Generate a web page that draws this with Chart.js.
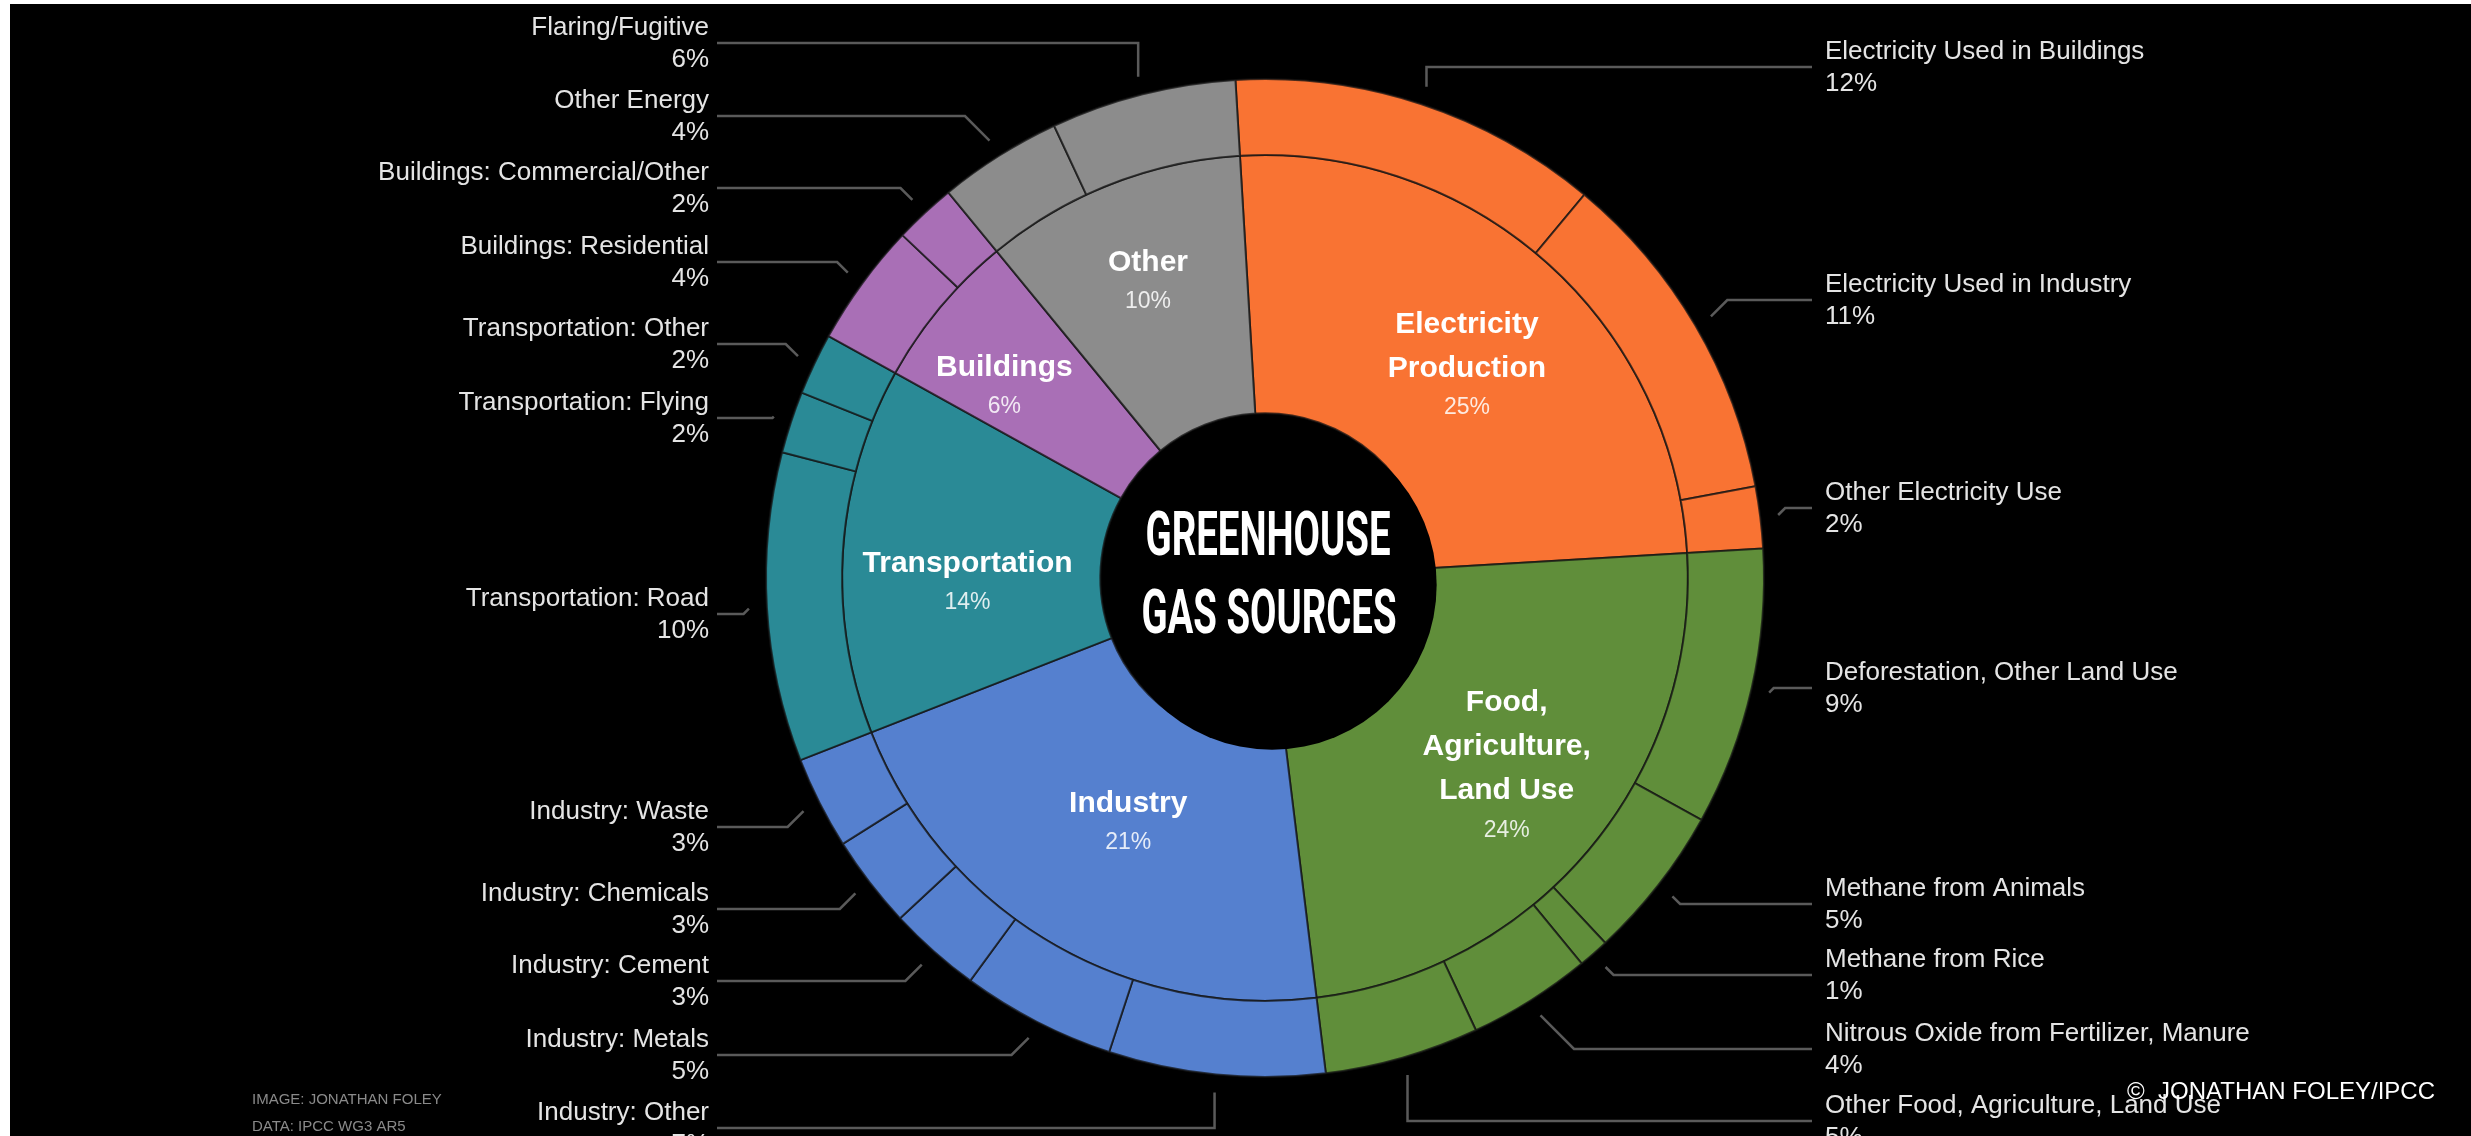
<!DOCTYPE html>
<html>
<head>
<meta charset="utf-8">
<title>Greenhouse Gas Sources</title>
<script src="https://cdn.jsdelivr.net/npm/chart.js@4.4.1/dist/chart.umd.min.js"></script>
<style>
  html, body { margin: 0; padding: 0; background: #000; }
  #wrap { position: relative; width: 2471px; height: 1136px; }
</style>
</head>
<body>
<div id="wrap"><canvas id="ghg" width="2471" height="1136"></canvas></div>
<script>
'use strict';

// Inner ring: sectors (clockwise from the top).
const sectorNames = [
  ['Electricity', 'Production'],
  ['Food,', 'Agriculture,', 'Land Use'],
  ['Industry'],
  ['Transportation'],
  ['Buildings'],
  ['Other'],
];
const sectorShares = [25, 24, 21, 14, 6, 10];
const sectorColors = ['#f97333', '#608e3a', '#5580cf', '#2a8a96', '#a96fb6', '#8c8c8c'];

// Outer ring: sub-sources, in the same clockwise order.
const sourceNames = [
  'Electricity Used in Buildings',
  'Electricity Used in Industry',
  'Other Electricity Use',
  'Deforestation, Other Land Use',
  'Methane from Animals',
  'Methane from Rice',
  'Nitrous Oxide from Fertilizer, Manure',
  'Other Food, Agriculture, Land Use',
  'Industry: Other',
  'Industry: Metals',
  'Industry: Cement',
  'Industry: Chemicals',
  'Industry: Waste',
  'Transportation: Road',
  'Transportation: Flying',
  'Transportation: Other',
  'Buildings: Residential',
  'Buildings: Commercial/Other',
  'Other Energy',
  'Flaring/Fugitive',
];
const sourceShares = [12, 11, 2, 9, 5, 1, 4, 5, 7, 5, 3, 3, 3, 10, 2, 2, 4, 2, 4, 6];
const sourceSector = [0, 0, 0, 1, 1, 1, 1, 1, 2, 2, 2, 2, 2, 3, 3, 3, 4, 4, 5, 5];

// Vertical slot of each callout (text line centre, px).
const calloutY = [52, 285, 493, 673, 889, 960, 1034, 1106,
  1113, 1040, 966, 894, 812, 599, 403, 329, 247, 173, 101, 28];

// Small hand nudges for the sector names, [dx, dy] px.
const sectorLabelShift = [[0, 16], [8, -6], [19, -16], [6, 25], [-27, 4], [-6, -13]];

const LABEL_FONT = '26px "Liberation Sans", Arial, Helvetica, sans-serif';
const LABEL_COLOR = '#e4e4e4';
const LEADER_COLOR = '#5a5a5a';

// Fits text to a target width by squeezing it horizontally.
function fitText(ctx, text, x, y, width) {
  const w = ctx.measureText(text).width;
  ctx.save();
  ctx.translate(x, y);
  ctx.scale(width / w, 1);
  ctx.fillText(text, 0, 0);
  ctx.restore();
}

const backdrop = {
  id: 'backdrop',
  beforeDraw(chart) {
    const ctx = chart.ctx;
    ctx.save();
    ctx.fillStyle = '#ffffff';
    ctx.fillRect(0, 0, chart.width, chart.height);
    ctx.fillStyle = '#000000';
    ctx.fillRect(10, 4, chart.width - 10, chart.height - 4);
    ctx.restore();
  },
};

const callouts = {
  id: 'callouts',
  afterDraw(chart) {
    const ctx = chart.ctx;
    const outer = chart.getDatasetMeta(0).data;
    const inner = chart.getDatasetMeta(1).data;
    const c = outer[0].getProps(['x', 'y', 'innerRadius'], true);
    const hole = inner[0].getProps(['innerRadius'], true).innerRadius;
    ctx.save();

    // The title disc sits a little off centre in the original.
    ctx.fillStyle = '#000000';
    ctx.beginPath();
    ctx.arc(c.x + 7, c.y + 7, hole, 0, Math.PI * 2);
    ctx.fill();

    // Outer ring callouts with elbow leader lines.
    outer.forEach(function (arc, i) {
      const p = arc.getProps(['x', 'y', 'startAngle', 'endAngle', 'outerRadius'], true);
      const mid = (p.startAngle + p.endAngle) / 2;
      const r = p.outerRadius + 18;
      const px = p.x + Math.cos(mid) * r;
      const py = p.y + Math.sin(mid) * r;
      const side = Math.cos(mid) < 0 ? -1 : 1;
      const lineY = calloutY[i] + 15;
      const dy = Math.abs(lineY - py);
      const ex = Math.abs(Math.cos(mid)) < 0.35 ? px : px + side * dy;
      const textX = side < 0 ? p.x - 556 : p.x + 560;
      const endX = side < 0 ? textX + 8 : textX - 13;

      ctx.strokeStyle = LEADER_COLOR;
      ctx.lineWidth = 2.5;
      ctx.beginPath();
      ctx.moveTo(px, py);
      ctx.lineTo(ex, lineY);
      ctx.lineTo(endX, lineY);
      ctx.stroke();

      ctx.fillStyle = LABEL_COLOR;
      ctx.font = LABEL_FONT;
      ctx.textAlign = side < 0 ? 'right' : 'left';
      ctx.textBaseline = 'middle';
      ctx.fillText(sourceNames[i], textX, calloutY[i]);
      ctx.fillText(sourceShares[i] + '%', textX, calloutY[i] + 32);
    });

    // Sector names inside the inner ring.
    inner.forEach(function (arc, i) {
      const p = arc.getProps(['x', 'y', 'startAngle', 'endAngle', 'innerRadius', 'outerRadius'], true);
      const mid = (p.startAngle + p.endAngle) / 2;
      const r = p.innerRadius + (p.outerRadius - p.innerRadius) * 0.54;
      const cx = p.x + Math.cos(mid) * r + sectorLabelShift[i][0];
      const cy = p.y + Math.sin(mid) * r + sectorLabelShift[i][1];
      const lines = sectorNames[i];
      const blockH = (lines.length - 1) * 44 + 39;
      const y = cy - blockH / 2;
      ctx.textAlign = 'center';
      ctx.textBaseline = 'middle';
      ctx.fillStyle = '#ffffff';
      ctx.font = 'bold 30px "Liberation Sans", Arial, Helvetica, sans-serif';
      lines.forEach(function (line, k) {
        ctx.fillText(line, cx, y + k * 44);
      });
      ctx.fillStyle = 'rgba(255,255,255,0.85)';
      ctx.font = '23px "Liberation Sans", Arial, Helvetica, sans-serif';
      ctx.fillText(sectorShares[i] + '%', cx, y + (lines.length - 1) * 44 + 39);
    });

    // Title in the hole.
    ctx.fillStyle = '#ffffff';
    ctx.textAlign = 'center';
    ctx.textBaseline = 'alphabetic';
    ctx.font = 'bold 62px "Liberation Sans Narrow", Roboto, sans-serif';
    fitText(ctx, 'GREENHOUSE', c.x + 3, 555, 245);
    fitText(ctx, 'GAS SOURCES', c.x + 4, 633, 255);

    // Credits.
    ctx.textAlign = 'right';
    ctx.font = '24px "Liberation Sans Narrow", "Liberation Sans", sans-serif';
    ctx.fillStyle = '#ffffff';
    ctx.textBaseline = 'middle';
    ctx.fillText('\u00a9  JONATHAN FOLEY/IPCC', 2435, 1092);

    ctx.textAlign = 'left';
    ctx.fillStyle = '#8a8a8a';
    ctx.font = '15px "Liberation Sans Narrow", "Liberation Sans", sans-serif';
    ctx.fillText('IMAGE: JONATHAN FOLEY', 252, 1100);
    ctx.fillText('DATA: IPCC WG3 AR5', 252, 1127);

    ctx.restore();
  },
};

new Chart(document.getElementById('ghg').getContext('2d'), {
  type: 'doughnut',
  data: {
    labels: sourceNames,
    datasets: [
      {
        label: 'Sources',
        data: sourceShares,
        backgroundColor: sourceSector.map(s => sectorColors[s]),
        borderColor: 'rgba(20, 20, 20, 0.75)',
        borderWidth: 2,
        weight: 76,
      },
      {
        label: 'Sectors',
        data: sectorShares,
        backgroundColor: sectorColors,
        borderColor: 'rgba(20, 20, 20, 0.75)',
        borderWidth: 2,
        weight: 258,
      },
    ],
  },
  options: {
    responsive: false,
    animation: false,
    events: [],
    rotation: -3.4,
    cutout: '33%',
    hoverOffset: 0,
    layout: {
      padding: { left: 765, right: 706, top: 78, bottom: 58 },
    },
    plugins: {
      legend: { display: false },
      tooltip: { enabled: false },
    },
  },
  plugins: [backdrop, callouts],
});
</script>
</body>
</html>
